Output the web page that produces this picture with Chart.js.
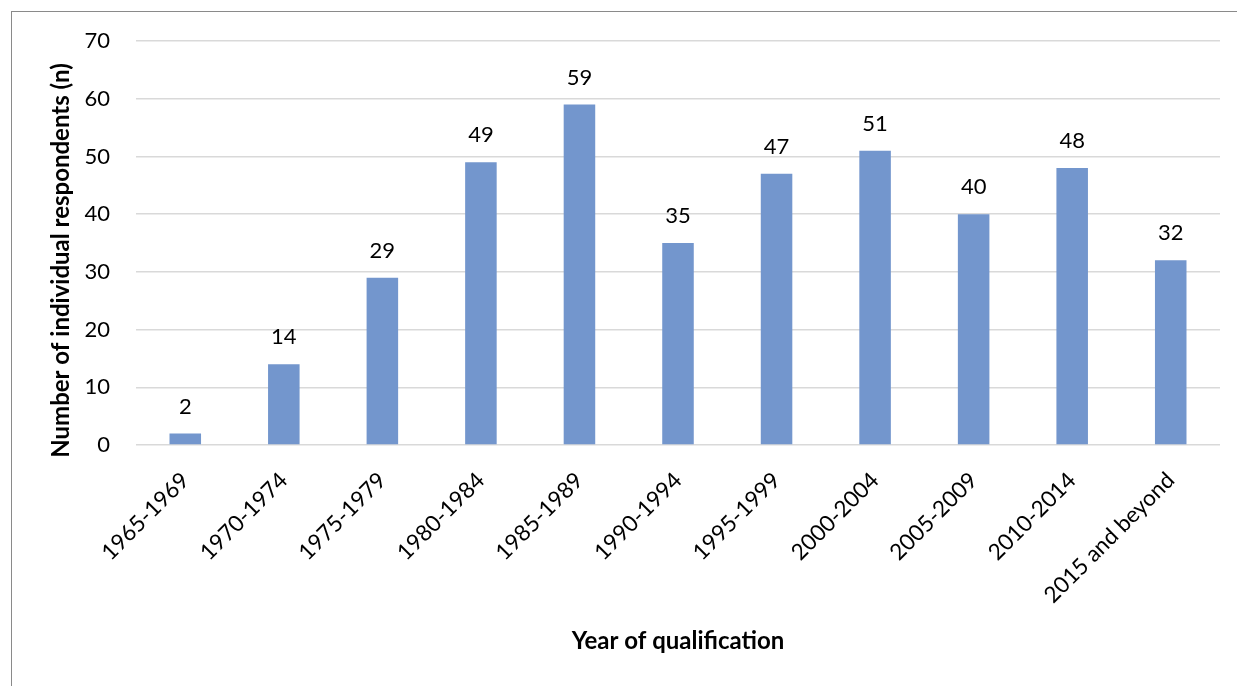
<!DOCTYPE html>
<html>
<head>
<meta charset="utf-8">
<script src="https://cdn.jsdelivr.net/npm/chart.js@4/dist/chart.umd.min.js"></script>
<style>
  body { margin:0; background:#fff; overflow:hidden; }
  #frame { position:absolute; left:11px; top:11px; width:1400px; height:900px; border:1px solid #8a8a8a; }
  canvas { position:absolute; left:0; top:0; }
</style>
</head>
<body>
<div id="frame"></div>
<canvas id="qualChart" width="1237" height="686"></canvas>
<script>

// chart data
const years = ['1965-1969','1970-1974','1975-1979','1980-1984','1985-1989','1990-1994',
               '1995-1999','2000-2004','2005-2009','2010-2014','2015 and beyond'];

const respondents = [2, 14, 29, 49, 59, 35, 47, 51, 40, 48, 32];

const yTicks = [0, 10, 20, 30, 40, 50, 60, 70];


const fontName = 'Lato, "Open Sans", sans-serif';
const textColor = '#000';


// value labels above bars
const valueLabels = {

    id:'valueLabels',

    afterDatasetsDraw(chart){

        const ctx = chart.ctx;
        const meta = chart.getDatasetMeta(0);

        ctx.save();
        ctx.font = '22px ' + fontName;
        ctx.fillStyle = textColor;
        ctx.textAlign = 'center';
        ctx.textBaseline = 'middle';

        meta.data.forEach((bar, i) => {
            ctx.fillText(String(respondents[i]), bar.x, bar.y - 27);
        });

        ctx.restore();
    }
};


new Chart(

document.getElementById('qualChart'),

{

    type:'bar',

    data:{

        labels:years,

        datasets:[{

            label:'Respondents',

            data:respondents,

            backgroundColor:'#7396cd',

            categoryPercentage:1,

            barPercentage:0.32

        }]

    },

    options:{

        responsive:false,
        animation:false,

        layout:{
            padding:{ left:43, top:41, right:17, bottom:26 }
        },

        plugins:{
            legend:{ display:false },
            tooltip:{ enabled:false }
        },

        scales:{

            x:{

                grid:{ display:false, drawTicks:false },
                border:{ display:false },

                ticks:{
                    autoSkip:false,
                    minRotation:45,
                    maxRotation:45,
                    padding:22,
                    color:textColor,
                    font:{ family:fontName, size:22.5 }
                },

                title:{
                    display:true,
                    text:'Year of qualification',
                    color:textColor,
                    font:{ family:fontName, size:24, weight:'bold' }
                },

                afterFit(scale){ scale.height = 215; }

            },

            y:{

                min:0,
                max:70,

                grid:{ color:'#d9d9d9', lineWidth:1.5, drawTicks:false },
                border:{ display:false },

                afterBuildTicks(scale){
                    scale.ticks = yTicks.map(v => ({ value:v }));
                },

                ticks:{
                    padding:26,
                    color:textColor,
                    font:{ family:fontName, size:22 }
                },

                title:{
                    display:true,
                    // trailing spaces push the text a little lower, as in the original
                    text:'Number of individual respondents (n)      ',
                    color:textColor,
                    font:{ family:fontName, size:24, weight:'bold' }
                },

                afterFit(scale){ scale.width = 93; }

            }

        }

    },

    plugins:[valueLabels]

});

</script>
</body>
</html>
